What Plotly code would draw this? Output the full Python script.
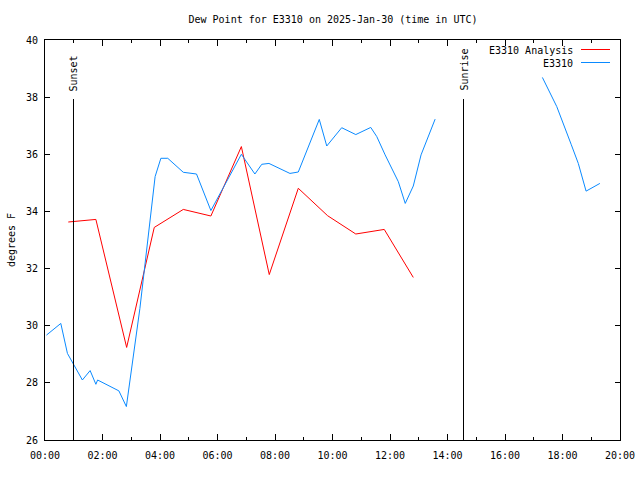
import plotly.graph_objects as go

# ---- data ----
analysis_hours = [0.81, 1.77, 2.84, 3.80, 4.81, 5.77, 6.83, 7.80, 8.81, 9.83, 10.81, 11.80, 12.81]
analysis_vals = [33.63, 33.72, 29.24, 33.44, 34.07, 33.84, 36.27, 31.79, 34.81, 33.85, 33.21, 33.37, 31.69]

obs_hours = [0.05, 0.55, 0.78, 1.30, 1.57, 1.77, 1.83, 2.57, 2.83, 3.30, 3.83, 4.03, 4.27,
             4.81, 5.27, 5.77, 6.83, 7.30, 7.54, 7.79, 8.52, 8.81, 9.54, 9.80, 10.32,
             10.81, 11.33, 11.54, 11.83, 12.29, 12.53, 12.81, 13.08, 13.57, None,
             17.30, 17.80, 18.30, 18.55, 18.82, 19.30]
obs_vals = [29.67, 30.08, 29.03, 28.10, 28.43, 27.95, 28.10, 27.72, 27.17, 30.6, 35.22, 35.86, 35.86,
            35.37, 35.31, 34.03, 36.00, 35.31, 35.65, 35.68, 35.33, 35.38, 37.22, 36.29, 36.93,
            36.69, 36.94, 36.62, 35.98, 35.04, 34.28, 34.89, 35.98, 37.23, None,
            38.69, 37.67, 36.35, 35.68, 34.71, 34.98]

sunset_hour = 0.991
sunrise_hour = 14.557

x_tickvals = [0, 2, 4, 6, 8, 10, 12, 14, 16, 18, 20]
x_ticktext = ["00:00", "02:00", "04:00", "06:00", "08:00", "10:00",
              "12:00", "14:00", "16:00", "18:00", "20:00"]
y_tickvals = [26, 28, 30, 32, 34, 36, 38, 40]

series_names = ["E3310 Analysis", "E3310"]
RED = "#ff0000"
BLUE = "#0a8aff"
FONT = "DejaVu Sans Mono"

W, H = 640, 480
ML, MR, MT, MB = 45, 20, 40, 40
PW, PH = W - ML - MR, H - MT - MB

def px_x(p):
    return (p - ML) / PW

def px_y(p):
    return 1 - (p - MT) / PH

fig = go.Figure()
fig.add_trace(go.Scatter(x=analysis_hours, y=analysis_vals, mode="lines",
                         line=dict(color=RED, width=1), name=series_names[0],
                         showlegend=False))
fig.add_trace(go.Scatter(x=obs_hours, y=obs_vals, mode="lines",
                         line=dict(color=BLUE, width=1), name=series_names[1],
                         showlegend=False, connectgaps=False))

# sunset / sunrise lines and labels
for hr, label in [(sunset_hour, "Sunset"), (sunrise_hour, "Sunrise")]:
    fig.add_shape(type="line", xref="x", yref="paper", x0=hr, x1=hr,
                  y0=0, y1=px_y(99), line=dict(color="black", width=1))
    fig.add_annotation(x=hr, xref="x", y=px_y(93), yref="paper",
                       text=label, textangle=-90, showarrow=False,
                       xanchor="center", yanchor="bottom",
                       font=dict(family=FONT, size=10, color="black"))

# custom gnuplot-style legend (text right, sample to the right)
for i, (name, col) in enumerate(zip(series_names, [RED, BLUE])):
    yy = 50 + i * 13
    fig.add_annotation(x=px_x(575), xref="paper", y=px_y(yy), yref="paper",
                       text=name, showarrow=False, xanchor="right", yanchor="middle",
                       font=dict(family=FONT, size=10, color="black"))
    fig.add_shape(type="line", xref="paper", yref="paper",
                  x0=px_x(581), x1=px_x(610), y0=px_y(yy - 0.5), y1=px_y(yy - 0.5),
                  line=dict(color=col, width=1))

fig.update_layout(
    width=W, height=H,
    margin=dict(l=ML, r=MR, t=MT, b=MB, pad=0, autoexpand=False),
    paper_bgcolor="white", plot_bgcolor="white",
    font=dict(family=FONT, size=10, color="black"),
    title=dict(text="Dew Point for E3310 on 2025-Jan-30 (time in UTC)",
               x=px_x(333), xanchor="center", xref="paper",
               y=1 - 19 / H, yanchor="middle", yref="container",
               font=dict(family=FONT, size=10, color="black")),
    showlegend=False,
)
fig.update_xaxes(range=[0, 20], tickvals=x_tickvals, ticktext=x_ticktext,
                 ticks="inside", ticklen=6, tickcolor="black", tickwidth=1,
                 minor=dict(dtick=1, ticks="inside", ticklen=3, tickcolor="black", tickwidth=1),
                 showline=True, linecolor="black", linewidth=1, mirror="allticks",
                 showgrid=False, zeroline=False, fixedrange=True, automargin=False,
                 ticklabelstandoff=6,
                 tickfont=dict(family=FONT, size=10, color="black"))
fig.update_yaxes(range=[26, 40], tickvals=y_tickvals,
                 ticks="inside", ticklen=5, tickcolor="black", tickwidth=1,
                 showline=True, linecolor="black", linewidth=1, mirror="allticks",
                 showgrid=False, zeroline=False, fixedrange=True, automargin=False,
                 ticklabelstandoff=4,
                 title=dict(text="degrees F", standoff=8,
                            font=dict(family=FONT, size=10, color="black")),
                 tickfont=dict(family=FONT, size=10, color="black"))

fig.write_html("out.html")
